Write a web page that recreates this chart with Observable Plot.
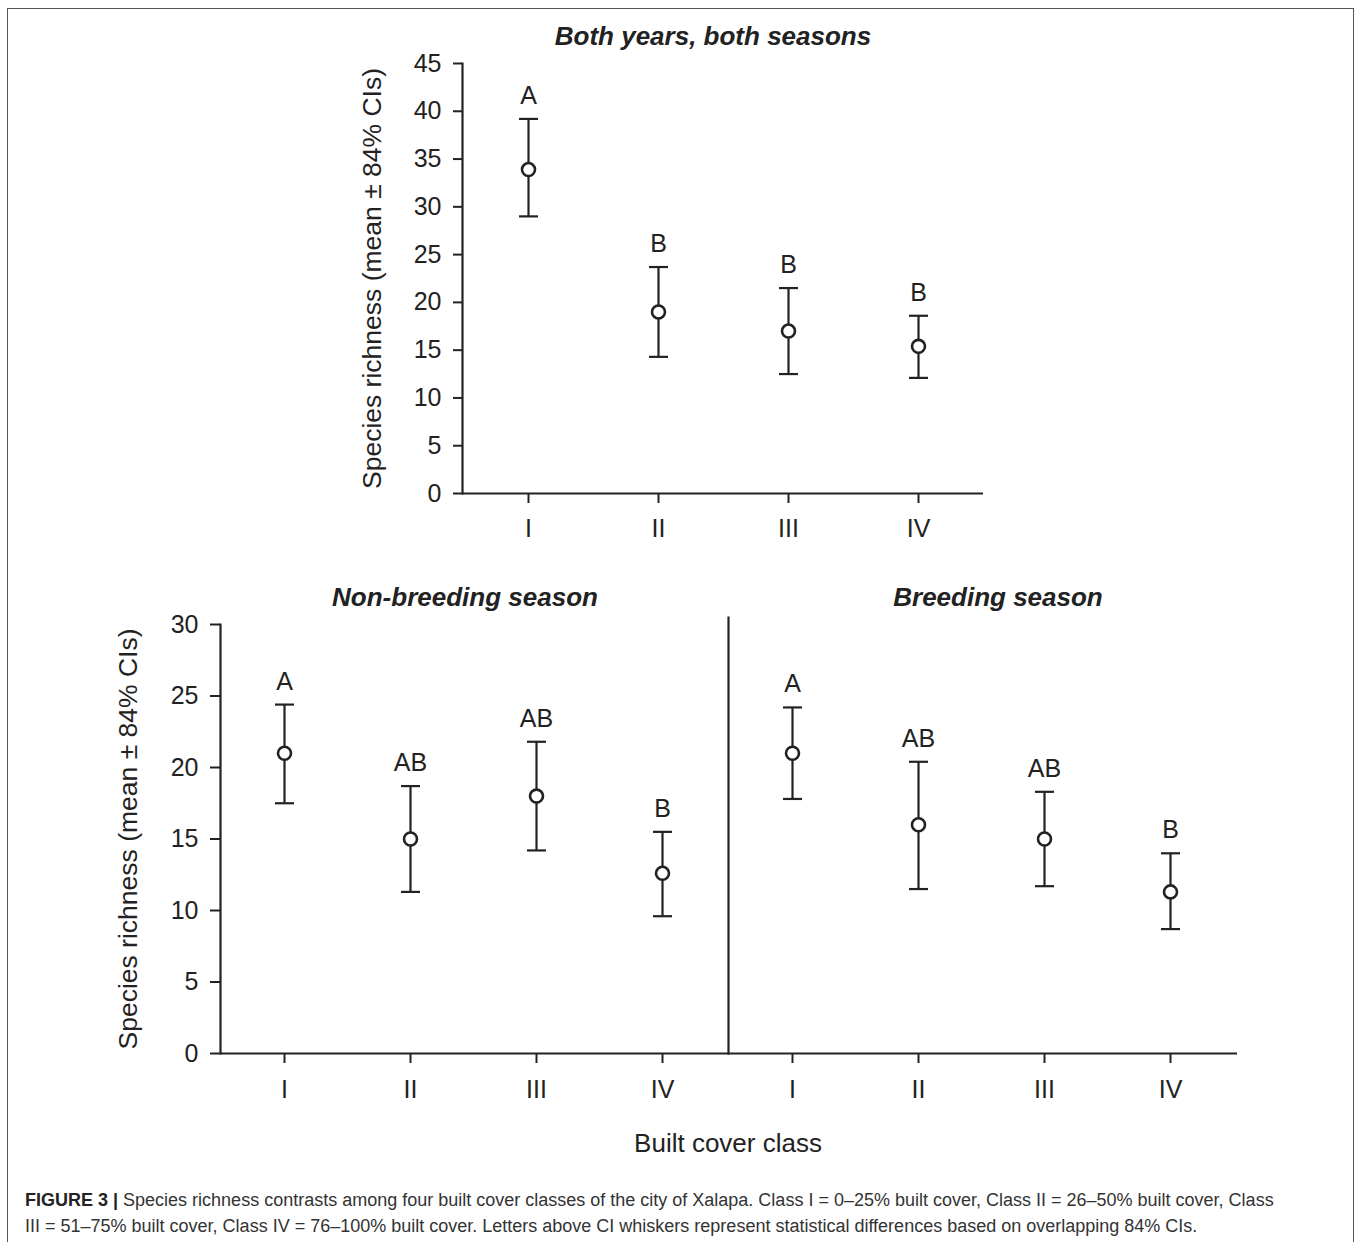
<!DOCTYPE html>
<html>
<head>
<meta charset="utf-8">
<script src="https://cdn.jsdelivr.net/npm/d3@7"></script>
<script src="https://cdn.jsdelivr.net/npm/@observablehq/plot@0.6"></script>
<style>
  body { margin: 0; background: #fff; }
  #page { position: relative; width: 1358px; height: 1242px; overflow: hidden; background: #fff; font-family: "Liberation Sans", Arial, sans-serif; color: #222; }
  .abs { position: absolute; }
  .ptitle { position: absolute; width: 600px; text-align: center; font-weight: bold; font-style: italic; font-size: 26px; color: #222; line-height: 1; }
  #border { position: absolute; left: 7px; top: 8px; width: 1347px; height: 1260px; border: 1.5px solid #555; box-sizing: border-box; }
  #caption { position: absolute; left: 25px; top: 1187px; font-size: 18px; line-height: 26px; color: #333; white-space: nowrap; }
  #xlabel { position: absolute; left: 528px; width: 400px; top: 1130px; text-align: center; font-size: 26px; line-height: 1; color: #222; }
</style>
</head>
<body>
<div id="page">
  <div id="border"></div>
  <div id="top" class="abs" style="left:0;top:0"></div>
  <div id="botL" class="abs" style="left:0;top:560px"></div>
  <div id="botR" class="abs" style="left:726px;top:560px"></div>
  <div class="ptitle" style="left:413px;top:23px">Both years, both seasons</div>
  <div class="ptitle" style="left:165px;top:584px">Non-breeding season</div>
  <div class="ptitle" style="left:698px;top:584px">Breeding season</div>
  <div id="xlabel">Built cover class</div>
  <div id="caption"><b style="color:#222">FIGURE 3 |</b> Species richness contrasts among four built cover classes of the city of Xalapa. Class I = 0–25% built cover, Class II = 26–50% built cover, Class<br>III = 51–75% built cover, Class IV = 76–100% built cover. Letters above CI whiskers represent statistical differences based on overlapping 84% CIs.</div>
</div>
<script>
// ---- data ----
const classes = ["I", "II", "III", "IV"];
const yLabel = "Species richness (mean ± 84% CIs)";

// Both years, both seasons
const bothMean = [33.9, 19.0, 17.0, 15.4];
const bothLow = [29.0, 14.3, 12.5, 12.1];
const bothHigh = [39.2, 23.7, 21.5, 18.6];
const bothLetters = ["A", "B", "B", "B"];
const topTicks = [0, 5, 10, 15, 20, 25, 30, 35, 40, 45];

// Non-breeding season
const nonMean = [21.0, 15.0, 18.0, 12.6];
const nonLow = [17.5, 11.3, 14.2, 9.6];
const nonHigh = [24.4, 18.7, 21.8, 15.5];
const nonLetters = ["A", "AB", "AB", "B"];

// Breeding season
const brMean = [21.0, 16.0, 15.0, 11.3];
const brLow = [17.8, 11.5, 11.7, 8.7];
const brHigh = [24.2, 20.4, 18.3, 14.0];
const brLetters = ["A", "AB", "AB", "B"];
const botTicks = [0, 5, 10, 15, 20, 25, 30];

const FONT = "'Liberation Sans', Arial, sans-serif";
const INK = "#222";

// horizontal whisker cap symbol (half-width = r)
const capSymbol = {
  draw(context, size) {
    const w = Math.sqrt(size / Math.PI);
    context.moveTo(-w, 0);
    context.lineTo(w, 0);
  }
};

function rows(mean, low, high, letters) {
  return classes.map((c, i) => ({cls: c, mean: mean[i], low: low[i], high: high[i], letter: letters[i]}));
}

function dataMarks(data) {
  return [
    Plot.ruleX(data, {x: "cls", y1: "low", y2: "high", stroke: INK, strokeWidth: 2.2}),
    Plot.dot(data, {x: "cls", y: "high", symbol: capSymbol, r: 9.5, fill: "none", stroke: INK, strokeWidth: 2.2}),
    Plot.dot(data, {x: "cls", y: "low", symbol: capSymbol, r: 9.5, fill: "none", stroke: INK, strokeWidth: 2.2}),
    Plot.dot(data, {x: "cls", y: "mean", r: 6.5, fill: "white", stroke: INK, strokeWidth: 2.6}),
    Plot.text(data, {x: "cls", y: "high", text: "letter", dy: -23, fontSize: 25, fill: INK})
  ];
}

// ---- top chart ----
const topChart = Plot.plot({
  width: 1358, height: 560,
  marginLeft: 462, marginRight: 375, marginTop: 63, marginBottom: 67,
  style: {fontFamily: FONT, fontSize: "25px", color: INK, background: "transparent", overflow: "visible"},
  x: {type: "point", domain: classes, padding: 0.5, axis: null},
  y: {domain: [0, 45], axis: null},
  marks: [
    Plot.axisY({ticks: topTicks, tickSize: 9, tickPadding: 12, fontSize: 25, strokeWidth: 2, label: null}),
    Plot.axisY({ticks: [], fontSize: 26.5, label: yLabel, labelAnchor: "center", labelArrow: "none", labelOffset: 100}),
    Plot.axisX({tickSize: 10, tickPadding: 16, fontSize: 25, strokeWidth: 2, label: null}),
    Plot.frame({anchor: "left", stroke: INK, strokeWidth: 2.2}),
    Plot.ruleY([0], {stroke: INK, strokeWidth: 2.2}),
    ...dataMarks(rows(bothMean, bothLow, bothHigh, bothLetters))
  ]
});
document.getElementById("top").append(topChart);

// ---- bottom left: non-breeding ----
const botLeft = Plot.plot({
  width: 729, height: 560,
  marginLeft: 220, marginRight: 3, marginTop: 64, marginBottom: 67,
  style: {fontFamily: FONT, fontSize: "25px", color: INK, background: "transparent", overflow: "visible"},
  x: {type: "point", domain: classes, padding: 0.5, axis: null},
  y: {domain: [0, 30], axis: null},
  marks: [
    Plot.axisY({ticks: botTicks, tickSize: 10, tickPadding: 12, fontSize: 25, strokeWidth: 2, label: null}),
    Plot.axisY({ticks: [], fontSize: 26.5, label: yLabel, labelAnchor: "center", labelArrow: "none", labelOffset: 102}),
    Plot.axisX({tickSize: 10, tickPadding: 17, fontSize: 25, strokeWidth: 2, label: null}),
    Plot.frame({anchor: "left", stroke: INK, strokeWidth: 2.2}),
    Plot.ruleY([0], {stroke: INK, strokeWidth: 2.2, insetRight: -3}),
    ...dataMarks(rows(nonMean, nonLow, nonHigh, nonLetters))
  ]
});
document.getElementById("botL").append(botLeft);

// ---- bottom right: breeding ----
const botRight = Plot.plot({
  width: 632, height: 560,
  marginLeft: 2, marginRight: 125, marginTop: 64, marginBottom: 67,
  style: {fontFamily: FONT, fontSize: "25px", color: INK, background: "transparent", overflow: "visible"},
  x: {type: "point", domain: classes, padding: 0.5, axis: null},
  y: {domain: [0, 30], axis: null},
  marks: [
    Plot.axisX({tickSize: 10, tickPadding: 17, fontSize: 25, strokeWidth: 2, label: null}),
    Plot.frame({anchor: "left", stroke: INK, strokeWidth: 2.2, insetTop: -7}),
    Plot.ruleY([0], {stroke: INK, strokeWidth: 2.2, insetRight: -4}),
    ...dataMarks(rows(brMean, brLow, brHigh, brLetters))
  ]
});
document.getElementById("botR").append(botRight);
</script>
</body>
</html>
